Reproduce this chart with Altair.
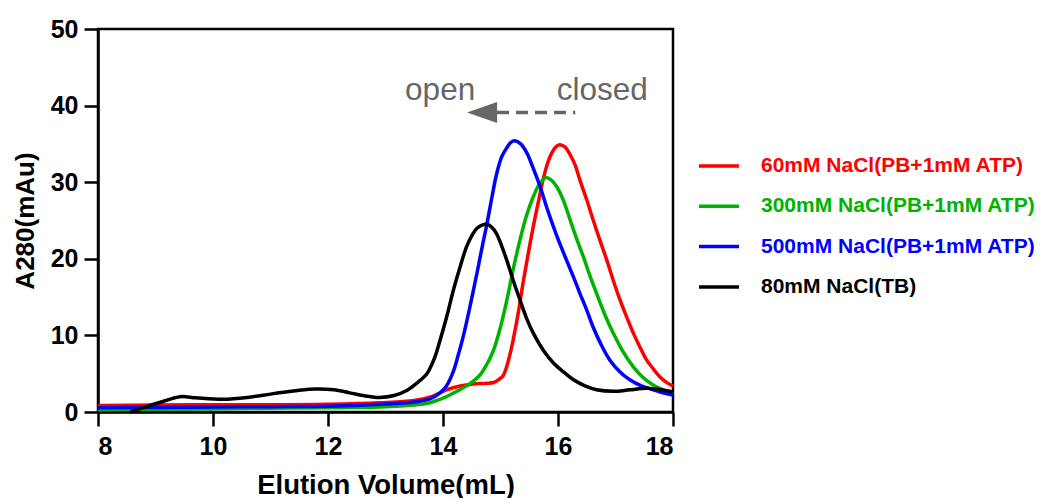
import altair as alt
import pandas as pd

# ---------------- data ----------------
series_names = ["60mM NaCl(PB+1mM ATP)", "300mM NaCl(PB+1mM ATP)",
                "500mM NaCl(PB+1mM ATP)", "80mM NaCl(TB)"]
series_colors = ["#FF0000", "#00B300", "#0000FF", "#000000"]

red_x = [8.0, 9.0, 10.0, 11.0, 12.0, 12.9, 13.5, 13.8, 14.06, 14.3, 14.53, 14.75, 14.88, 14.98,
         15.05, 15.13, 15.22, 15.31, 15.40, 15.49, 15.57, 15.66, 15.74, 15.82, 15.89, 15.96, 16.03,
         16.12, 16.21, 16.30, 16.38, 16.5, 16.61, 16.73, 16.85, 16.96, 17.08, 17.2, 17.31, 17.43,
         17.54, 17.66, 17.77, 17.88, 18.0]
red_y = [0.85, 0.9, 0.95, 0.95, 1.0, 1.2, 1.5, 2.0, 2.9, 3.4, 3.65, 3.75, 3.85, 4.3,
         4.8, 6.5, 9.4, 13.0, 17.2, 21.0, 24.2, 27.5, 30.3, 32.5, 33.8, 34.6, 34.9,
         34.6, 33.6, 32.2, 30.3, 27.7, 25.1, 22.4, 19.8, 17.2, 14.6, 12.3, 10.3, 8.4,
         6.8, 5.6, 4.6, 3.9, 3.4]

green_x = [8.0, 9.0, 10.0, 11.0, 12.0, 12.9, 13.5, 13.77, 14.0, 14.24, 14.45, 14.64, 14.76, 14.87,
           14.99, 15.11, 15.22, 15.34, 15.45, 15.57, 15.68, 15.79, 15.88, 15.98, 16.1, 16.21,
           16.32, 16.44, 16.55, 16.67, 16.81, 16.96, 17.13, 17.31, 17.48, 17.66, 17.83, 18.0]
green_y = [0.3, 0.35, 0.4, 0.5, 0.55, 0.65, 0.9, 1.2, 1.8, 2.7, 3.6, 4.8, 6.2, 7.9,
           10.8, 14.6, 18.6, 22.5, 25.6, 28.1, 29.8, 30.6, 30.3, 29.4, 27.5, 25.1,
           22.7, 20.3, 17.9, 15.5, 12.8, 10.3, 7.9, 5.9, 4.5, 3.5, 2.9, 2.4]

blue_x = [8.0, 9.0, 10.0, 11.0, 12.0, 12.9, 13.5, 13.77, 13.95, 14.06, 14.18, 14.26, 14.35, 14.47,
          14.59, 14.68, 14.76, 14.85, 14.93, 15.02, 15.11, 15.18, 15.25, 15.35, 15.46, 15.57,
          15.69, 15.80, 15.92, 16.03, 16.15, 16.27, 16.38, 16.5, 16.61, 16.75, 16.90, 17.07,
          17.25, 17.45, 17.66, 17.83, 18.0]
blue_y = [0.55, 0.6, 0.65, 0.7, 0.75, 1.0, 1.3, 1.7, 2.5, 3.4, 5.3, 7.3, 9.8, 13.8,
          18.1, 21.5, 24.4, 28.0, 31.0, 33.3, 34.5, 35.2, 35.4, 35.0, 33.8, 31.8,
          29.4, 26.8, 24.2, 22.0, 19.8, 17.6, 15.5, 13.3, 11.1, 8.8, 6.8, 5.3,
          4.2, 3.4, 2.9, 2.5, 2.2]

black_x = [8.56, 8.8, 9.1, 9.43, 9.7, 10.18, 10.6, 11.05, 11.5, 11.8, 12.1, 12.38, 12.65, 12.9,
           13.15, 13.37, 13.55, 13.72, 13.85, 13.95, 14.07, 14.18, 14.3, 14.41, 14.5, 14.59,
           14.68, 14.76, 14.85, 14.93, 15.02, 15.11, 15.22, 15.34, 15.45, 15.57, 15.75, 15.92,
           16.1, 16.27, 16.47, 16.67, 16.96, 17.25, 17.54, 17.8, 18.0]
black_y = [0.0, 0.6, 1.3, 2.0, 1.85, 1.65, 1.9, 2.4, 2.85, 3.0, 2.9, 2.5, 2.1, 1.9,
           2.15, 2.8, 3.8, 5.0, 7.0, 9.4, 12.6, 15.9, 19.0, 21.6, 23.0, 24.0,
           24.4, 24.5, 24.1, 23.3, 21.7, 19.8, 17.2, 14.6, 12.3, 10.3, 8.0, 6.4,
           5.2, 4.2, 3.4, 2.9, 2.7, 2.9, 3.1, 2.9, 2.6]

x_ticks = [8, 10, 12, 14, 16, 18]
y_ticks = [0, 10, 20, 30, 40, 50]

note_texts = ["open", "closed"]
note_x = [13.95, 16.77]
note_y = [40.7, 40.7]

arrow_x_start = [14.94]
arrow_x_end = [16.3]
arrow_y = [39.1]
arrow_head_x = [14.68]

# ---------------- tables ----------------
frames = []
for name, xs, ys in zip(series_names,
                        [red_x, green_x, blue_x, black_x],
                        [red_y, green_y, blue_y, black_y]):
    frames.append(pd.DataFrame({"x": xs, "y": ys, "series": name}))
curves = pd.concat(frames, ignore_index=True)

notes = pd.DataFrame({"x": note_x, "y": note_y, "t": note_texts})
arrow = pd.DataFrame({"x": arrow_x_start, "x2": arrow_x_end, "y": arrow_y})
head = pd.DataFrame({"x": arrow_head_x, "y": arrow_y})

FONT = "Liberation Sans"
GRAY = "#666666"

x_scale = alt.Scale(domain=[8, 18], nice=False, zero=False)
y_scale = alt.Scale(domain=[0, 50], nice=False)

x_axis = alt.Axis(values=x_ticks, title="Elution Volume(mL)", format="d")
y_axis = alt.Axis(values=y_ticks, title="A280(mAu)", format="d")

lines = alt.Chart(curves).mark_line(strokeWidth=3.5, interpolate="catmull-rom").encode(
    x=alt.X("x:Q", scale=x_scale, axis=x_axis),
    y=alt.Y("y:Q", scale=y_scale, axis=y_axis),
    color=alt.Color(
        "series:N",
        scale=alt.Scale(domain=series_names, range=series_colors),
        legend=alt.Legend(
            title=None, orient="none", legendX=599, legendY=115,
            symbolType="stroke", symbolSize=1600, symbolStrokeWidth=3.5,
            labelFont=FONT, labelFontSize=21, labelFontWeight="bold",
            labelColor=alt.ExprRef(expr="scale('color', datum.value)"),
            labelOffset=20, rowPadding=8.3, labelLimit=400,
        ),
    ),
    detail="series:N",
)

dash = alt.Chart(arrow).mark_rule(strokeWidth=3.5, color=GRAY, strokeDash=[12, 7]).encode(
    x=alt.X("x:Q", scale=x_scale), x2="x2:Q", y=alt.Y("y:Q", scale=y_scale)
)

tri = alt.Chart(head).mark_point(
    shape="M-1,0L1,-0.7L1,0.7Z", filled=True, size=900, color=GRAY, opacity=1
).encode(x=alt.X("x:Q", scale=x_scale), y=alt.Y("y:Q", scale=y_scale))

txt = alt.Chart(notes).mark_text(
    font=FONT, fontSize=31.5, color=GRAY, align="center", baseline="alphabetic"
).encode(x=alt.X("x:Q", scale=x_scale), y=alt.Y("y:Q", scale=y_scale), text="t:N")

chart = alt.layer(lines, dash, tri, txt).properties(
    width=575, height=383,
    autosize=alt.AutoSizeParams(type="none"),
    padding={"left": 90, "top": 21, "right": 365, "bottom": 86},
).configure_view(
    stroke="black", strokeWidth=2.5
).configure_axis(
    grid=False, domainColor="black", domainWidth=2.5, tickColor="black", tickWidth=2.5,
    tickSize=14, labelFont=FONT, labelFontSize=25, labelFontWeight="bold", labelColor="black",
    titleFont=FONT, titleFontSize=26, titleFontWeight="bold", titleColor="black",
).configure_axisX(
    labelPadding=8, titlePadding=12, titleFontSize=27.5
).configure_axisY(
    labelPadding=6, titlePadding=12
)

chart.save("out.html", embed_options={"renderer": "svg", "actions": False})
